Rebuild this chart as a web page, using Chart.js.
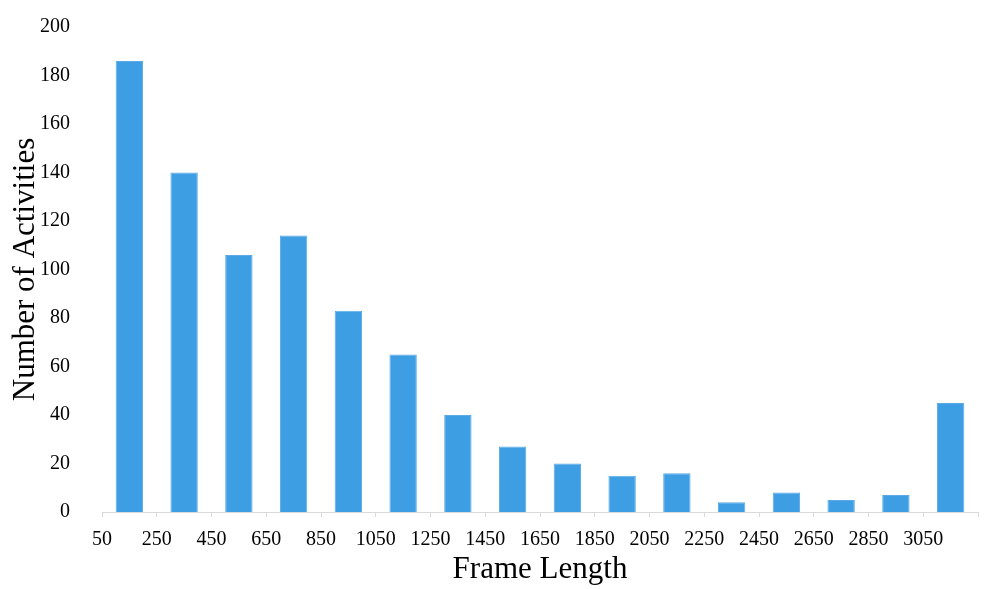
<!DOCTYPE html>
<html>
<head>
<meta charset="utf-8">
<script src="https://cdn.jsdelivr.net/npm/chart.js@4"></script>
<style>
  html, body { margin: 0; padding: 0; background: #fff; }
  #wrap { width: 996px; height: 589px; }
</style>
</head>
<body>
<div id="wrap"><canvas id="grafico"></canvas></div>
<script>
// data
const binCenters = [150, 350, 550, 750, 950, 1150, 1350, 1550, 1750, 1950, 2150, 2350, 2550, 2750, 2950, 3150];
const counts = [186, 140, 106, 114, 83, 65, 40, 27, 20, 15, 16, 4, 8, 5, 7, 45];
const tickValues = [50, 250, 450, 650, 850, 1050, 1250, 1450, 1650, 1850, 2050, 2250, 2450, 2650, 2850, 3050, 3250];
const tickLabels = ['50', '250', '450', '650', '850', '1050', '1250', '1450', '1650', '1850', '2050', '2250', '2450', '2650', '2850', '3050', ''];

const serif = 'Liberation Serif';
const axisGray = '#d9d9d9';

const ctx = document.getElementById('grafico').getContext('2d');
const grafico = new Chart(ctx, {
  type: 'bar',
  data: {
    datasets: [{
      label: 'Number of Activities',
      data: binCenters.map((x, i) => ({ x: x, y: counts[i] })),
      backgroundColor: '#3e9ee4',
      borderColor: '#5aaae8',
      borderWidth: 1,
      categoryPercentage: 1,
      barPercentage: 0.5
    }]
  },
  options: {
    responsive: true,
    maintainAspectRatio: false,
    animation: false,
    layout: { padding: { top: 27, right: 18, left: 0, bottom: 0 } },
    plugins: {
      legend: { display: false },
      tooltip: { enabled: false }
    },
    scales: {
      x: {
        type: 'linear',
        min: 50,
        max: 3250,
        offset: false,
        afterBuildTicks: (scale) => {
          scale.ticks = tickValues.map(v => ({ value: v }));
        },
        afterFit: (scale) => { scale.height = 77; },
        ticks: {
          autoSkip: false,
          maxRotation: 0,
          padding: 11,
          color: '#000',
          font: { family: serif, size: 20 },
          callback: (value, index) => tickLabels[index]
        },
        grid: {
          offset: false,
          drawOnChartArea: false,
          drawTicks: true,
          tickLength: 5,
          color: axisGray
        },
        border: { display: true, color: axisGray, width: 1 },
        title: {
          display: true,
          text: 'Frame Length',
          color: '#000',
          font: { family: serif, size: 31 },
          padding: { top: 0, bottom: 1 }
        }
      },
      y: {
        min: 0,
        max: 200,
        afterFit: (scale) => {
          scale.width = 102;
          scale.paddingTop = 0;
          scale.paddingBottom = 0;
        },
        ticks: {
          stepSize: 20,
          padding: 24,
          color: '#000',
          font: { family: serif, size: 20 }
        },
        grid: { display: false },
        border: { display: false },
        title: {
          display: true,
          text: 'Number of Activities',
          color: '#000',
          font: { family: serif, size: 31 },
          padding: { top: 7, bottom: 0 }
        }
      }
    }
  }
});
</script>
</body>
</html>
